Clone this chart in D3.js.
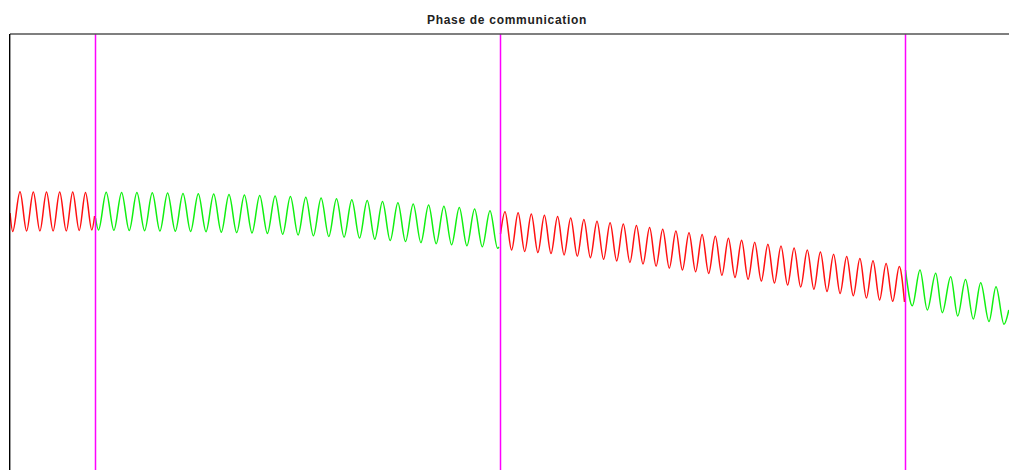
<!DOCTYPE html>
<html>
<head>
<meta charset="utf-8">
<script src="https://cdn.jsdelivr.net/npm/d3@7"></script>
<style>
  html, body { margin: 0; padding: 0; background: #ffffff; overflow: hidden; }
  svg { display: block; }
</style>
</head>
<body>
<div id="chart"></div>
<script>
// ---------------- DATA ----------------
const chartTitle = "Phase de communication";

// transmitted bits (1 = high-frequency tone, 0 = low-frequency tone)
const bits = [1, 0, 1, 0];

// bit boundaries (sample index)
const boundaryT = [85, 490, 895];

// bit 1 (1) : sample index / signal level read at extrema
const bit1T = [0, 2.7, 10, 16.6, 23.3, 29.9, 36.5, 43.1, 49.7, 56.3, 62.7, 69.2, 75.5, 81.8, 84.6];
const bit1V = [37, 18.5, 58.3, 19, 58, 19, 58, 19, 58, 19, 58, 19.5, 57.5, 20, 34];

// bit 2 (0)
const bit2T = [85.5,
  88.5, 96.2, 103.9, 111.6, 119.2, 126.9, 134.6, 142.3, 149.9, 157.6, 165.3, 173.0,
  180.6, 188.3, 196.0, 203.7, 211.3, 219.0, 226.7, 234.4, 242.0, 249.7, 257.4, 265.1,
  272.7, 280.4, 288.1, 295.8, 303.4, 311.1, 318.8, 326.5, 334.1, 341.8, 349.5, 357.2,
  364.8, 372.5, 380.2, 387.9, 395.5, 403.2, 410.9, 418.6, 426.2, 433.9, 441.6, 449.3,
  456.9, 464.6, 472.3, 480.0, 487.6,
  489];
const bit2V = [32,
  20, 57.7, 19.7, 57.6, 19.5, 57.4, 19.3, 57.2, 19, 56.9, 18.8, 56.6,
  18.6, 56.3, 18.3, 55.9, 17.8, 55.5, 17.4, 55.1, 17, 54.6, 16.5, 54.1,
  15.8, 53.5, 15, 52.8, 14.2, 52, 13.5, 51.2, 12.8, 50.3, 12, 49.4,
  10.8, 48.4, 9.5, 47.3, 8.4, 46.1, 7.4, 45, 6.3, 43.8, 5.2, 42.5,
  4.2, 41, 3.2, 39.3, 1.7,
  3];

// bit 3 (1)
const bit3T = [490.5,
  495.0, 501.6, 508.1, 514.7, 521.3, 527.9, 534.4, 541.0, 547.6, 554.1, 560.7, 567.3,
  573.9, 580.4, 587.0, 593.6, 600.1, 606.7, 613.3, 619.9, 626.4, 633.0, 639.6, 646.1,
  652.7, 659.3, 665.9, 672.4, 679.0, 685.6, 692.1, 698.7, 705.3, 711.9, 718.4, 725.0,
  731.6, 738.1, 744.7, 751.3, 757.9, 764.4, 771.0, 777.6, 784.1, 790.7, 797.3, 803.9,
  810.4, 817.0, 823.6, 830.1, 836.7, 843.3, 849.9, 856.4, 863.0, 869.6, 876.1, 882.7,
  889.3, 894.5];
const bit3V = [16,
  38.3, 0, 37.3, -1.5, 36, -2.6, 34.7, -3.6, 33.4, -4.9, 32, -6.3,
  30.4, -7.7, 28.8, -9.3, 27.3, -10.9, 25.9, -12.4, 24.4, -14.1, 22.6, -16.2,
  20.7, -18.2, 19, -20, 17.3, -21.7, 15.6, -23.4, 13.8, -25.3, 11.8, -27.4,
  9.7, -29.3, 7.7, -31.1, 5.8, -33, 3.9, -35, 1.9, -37, 0, -39.2,
  -1.9, -41.5, -4.2, -43.5, -6.4, -45.8, -8.5, -48, -10.8, -50, -13.4, -51.3,
  -16.5, -52];

// bit 4 (0)
const bit4T = [895.5, 902.3, 910, 917.3, 925.7, 932.3, 940.7, 947.7, 955.5, 963.3, 970.7, 979, 986, 994, 998.8];
const bit4V = [-20, -55.7, -20, -60, -23.3, -62.7, -26.7, -66, -29.5, -69, -32.7, -71.5, -36.7, -74.3, -60];

// ---------------- CHART ----------------
const W = 1009, H = 470;
const margin = { left: 10, top: 34 };

const svg = d3.select("#chart").append("svg")
  .attr("width", W).attr("height", H);

const x = d3.scaleLinear().domain([0, 999]).range([margin.left, W]);
const y = d3.scaleLinear().domain([-220, 216]).range([H, margin.top]);

const bitColor = b => (b === 1 ? "#ff1010" : "#10f010");

// title
svg.append("text")
  .attr("x", 507).attr("y", 23.5)
  .attr("text-anchor", "middle")
  .attr("font-family", "'Liberation Sans', Arial, sans-serif")
  .attr("font-size", 12).attr("font-weight", "bold")
  .attr("letter-spacing", 0.7)
  .attr("fill", "#222")
  .text(chartTitle);

// signal segments
const segT = [bit1T, bit2T, bit3T, bit4T];
const segV = [bit1V, bit2V, bit3V, bit4V];
const line = d3.line()
  .x(d => x(d[0]))
  .y(d => y(d[1]))
  .curve(d3.curveMonotoneX);

bits.forEach((b, i) => {
  const pts = segT[i].map((t, j) => [t, segV[i][j]]);
  svg.append("path")
    .datum(pts)
    .attr("fill", "none")
    .attr("stroke", bitColor(b))
    .attr("stroke-width", 1.5)
    .attr("d", line);
});

// bit boundary markers
svg.selectAll("line.marker")
  .data(boundaryT)
  .join("line")
  .attr("class", "marker")
  .attr("x1", d => x(d) + 0.5).attr("x2", d => x(d) + 0.5)
  .attr("y1", margin.top).attr("y2", H)
  .attr("stroke", "#ff00ff")
  .attr("stroke-width", 1.5);

// frame
svg.append("line")
  .attr("x1", margin.left).attr("x2", W)
  .attr("y1", margin.top).attr("y2", margin.top)
  .attr("stroke", "#555").attr("stroke-width", 1.6);
svg.append("line")
  .attr("x1", margin.left - 0.3).attr("x2", margin.left - 0.3)
  .attr("y1", margin.top).attr("y2", H)
  .attr("stroke", "#000").attr("stroke-width", 1.4);
</script>
</body>
</html>
